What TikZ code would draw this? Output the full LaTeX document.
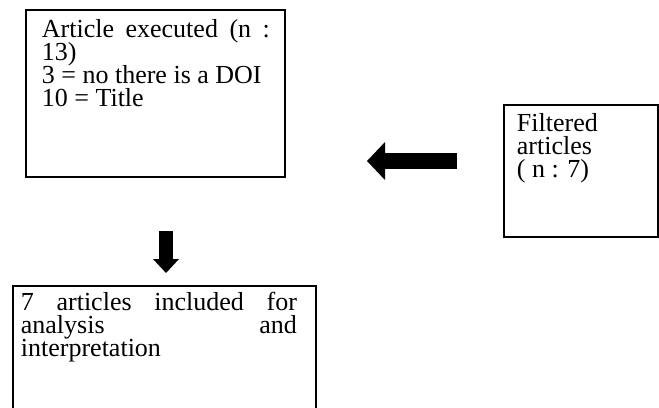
\documentclass[tikz,border=0pt]{standalone}
\usepackage{fontspec}
\setmainfont{Liberation Serif}
\usetikzlibrary{arrows.meta}
% box text: height, width, left margin, right margin, first baseline, text
\newcommand{\boxtext}[6]{\parbox[t][#1][t]{#2}{\lineskiplimit=-100bp\leftskip=#3\rightskip=#4\rule{0pt}{#5}#6}}
\begin{document}
\begin{tikzpicture}
        [x=1bp, y=-1bp,
        box/.style={rectangle, draw, line width=1.8bp, inner sep=0pt, anchor=north west, font=\fontsize{26bp}{22.8bp}\selectfont},
        bigArrow/.style={line width=16bp, -{Triangle[length=18bp, width=38bp, line width=0pt]}},
        smallArrow/.style={line width=14bp, -{Triangle[length=14bp, width=26bp, line width=0pt]}}]
        \useasboundingbox (0,0) rectangle (659,407);
        \node[box] (executed) at (25,9) {\boxtext{167bp}{259bp}{16bp}{15bp}{28bp}{Article executed (n :\linebreak 13)\\ 3 = no there is a DOI\\ 10 = Title}};
        \node[box] (filtered) at (503,104) {\boxtext{132bp}{154bp}{13bp}{0bp}{27bp}{Filtered\\ articles\\ ( n : 7)}};
        \node[box] (included) at (12,285) {\boxtext{135bp}{303bp}{8bp}{19bp}{25bp}{7 articles included for\linebreak analysis and\linebreak interpretation}};
        
        \coordinate (leftTail) at (457,161);
        \coordinate (leftTip) at (367,161);
        \coordinate (downTail) at (166,231);
        \coordinate (downTip) at (166,273);
        
        \draw[bigArrow] (leftTail) -- (leftTip);%filtered -> executed
        \draw[smallArrow] (downTail) -- (downTip);%executed -> included
    
    \end{tikzpicture}
\end{document}
